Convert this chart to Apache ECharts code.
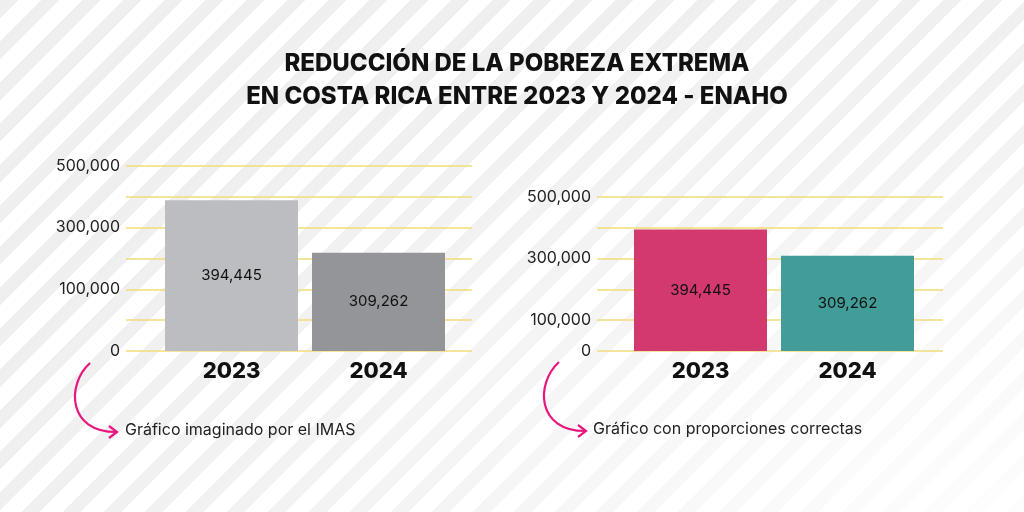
<!DOCTYPE html>
<html><head><meta charset="utf-8">
<script src="https://cdn.jsdelivr.net/npm/echarts@6/dist/echarts.min.js"></script>
<style>
html,body{margin:0;padding:0;width:1024px;height:512px;overflow:hidden;}
body{background:repeating-linear-gradient(135deg,#efeff0 0px,#efeff0 13px,#ffffff 13px,#ffffff 29px);}
#fade{position:absolute;left:0;top:0;width:1024px;height:512px;background:radial-gradient(ellipse at 100% 100%,rgba(255,255,255,0.9) 0%,rgba(255,255,255,0.3) 45%,rgba(255,255,255,0) 75%);}
#chart{position:absolute;left:0;top:0;width:1024px;height:512px;}
</style></head>
<body>
<div id="fade"></div>
<div id="chart"></div>
<script>
const titleText = 'REDUCCIÓN DE LA POBREZA EXTREMA\nEN COSTA RICA ENTRE 2023 Y 2024 - ENAHO';
const years = ['2023', '2024'];
const values = [394445, 309262];
const leftColors = ['#bcbdc0', '#939598'];
const rightColors = ['#d3386f', '#429d98'];
// left ("imagined") chart: truncated axis with misleading labels
const leftTickValues = [150000, 250000, 350000, 450000];
const leftTickLabels = ['0', '100,000', '300,000', '500,000'];
// right (correct) chart
const rightTickValues = [0, 100000, 300000, 500000];
const rightTickLabels = ['0', '100,000', '300,000', '500,000'];
const noteLeft = 'Gráfico imaginado por el IMAS';
const noteRight = 'Gráfico con proporciones correctas';

const FONT = 'Inter';
const fmt = v => v.toLocaleString('en-US');
const pink = '#e8177f';

function labelFor(vals, labs) {
  return v => { const i = vals.indexOf(v); return i >= 0 ? labs[i] : ''; };
}

function arrow(dx, dy) {
  return [
    { type: 'bezierCurve', shape: { x1: 90 + dx, y1: 363 + dy, cpx1: 66 + dx, cpy1: 385 + dy, cpx2: 68 + dx, cpy2: 432 + dy, x2: 116 + dx, y2: 432 + dy },
      style: { stroke: pink, lineWidth: 2.2, fill: null } },
    { type: 'polyline', shape: { points: [[109 + dx, 426 + dy], [117 + dx, 432 + dy], [109 + dx, 438 + dy]] },
      style: { stroke: pink, lineWidth: 2.2, fill: null } }
  ];
}

const gridLine = { show: true, lineStyle: { color: '#f2dc78', width: 1.5 } };
const axisLabelStyle = { fontFamily: FONT, fontSize: 16, color: '#222', margin: 6 };
const yearLabel = { fontFamily: FONT, fontWeight: 800, fontSize: 22, color: '#111', margin: 9 };

const chart = echarts.init(document.getElementById('chart'), null, { renderer: 'canvas' });
chart.setOption({
  backgroundColor: 'transparent',
  animation: false,
  title: {
    text: titleText, left: 512, top: 42, textAlign: 'center',
    textStyle: { fontFamily: FONT, fontWeight: 800, fontSize: 24, lineHeight: 33, color: '#111', align: 'center' }
  },
  grid: [
    { left: 126, top: 166, width: 346, height: 185 },
    { left: 158, top: 166, width: 294, height: 185 },
    { left: 597, top: 197, width: 346, height: 154 },
    { left: 627, top: 197, width: 294, height: 154 }
  ],
  xAxis: [
    { gridIndex: 0, type: 'value', min: 0, max: 1, show: false },
    { gridIndex: 1, type: 'category', data: years, axisLine: { show: false }, axisTick: { show: false }, axisLabel: yearLabel },
    { gridIndex: 2, type: 'value', min: 0, max: 1, show: false },
    { gridIndex: 3, type: 'category', data: years, axisLine: { show: false }, axisTick: { show: false }, axisLabel: yearLabel }
  ],
  yAxis: [
    { gridIndex: 0, type: 'value', min: 150000, max: 450000, interval: 50000,
      axisLine: { show: false }, axisTick: { show: false }, splitLine: gridLine,
      axisLabel: Object.assign({ formatter: labelFor(leftTickValues, leftTickLabels) }, axisLabelStyle) },
    { gridIndex: 1, type: 'value', min: 150000, max: 450000, interval: 50000, show: false, splitLine: { show: false } },
    { gridIndex: 2, type: 'value', min: 0, max: 500000, interval: 100000,
      axisLine: { show: false }, axisTick: { show: false }, splitLine: gridLine,
      axisLabel: Object.assign({ formatter: labelFor(rightTickValues, rightTickLabels) }, axisLabelStyle) },
    { gridIndex: 3, type: 'value', min: 0, max: 500000, interval: 100000, show: false, splitLine: { show: false } }
  ],
  series: [
    { type: 'bar', xAxisIndex: 1, yAxisIndex: 1, barWidth: 133, clip: true,
      data: values.map((v, i) => ({ value: v, itemStyle: { color: leftColors[i] } })),
      label: { show: true, position: 'inside', formatter: p => fmt(p.value), fontFamily: FONT, fontSize: 15, color: '#111' } },
    { type: 'bar', xAxisIndex: 3, yAxisIndex: 3, barWidth: 133, clip: true,
      data: values.map((v, i) => ({ value: v, itemStyle: { color: rightColors[i] } })),
      label: { show: true, position: 'inside', formatter: p => fmt(p.value), fontFamily: FONT, fontSize: 15, color: '#111' } }
  ],
  graphic: [
    ...arrow(0, 0),
    ...arrow(469, -1),
    { type: 'text', left: 125, top: 422, style: { text: noteLeft, fontFamily: FONT, fontSize: 16, fill: '#222' } },
    { type: 'text', left: 593, top: 421, style: { text: noteRight, fontFamily: FONT, fontSize: 16, fill: '#222' } }
  ]
});
</script>
</body></html>
